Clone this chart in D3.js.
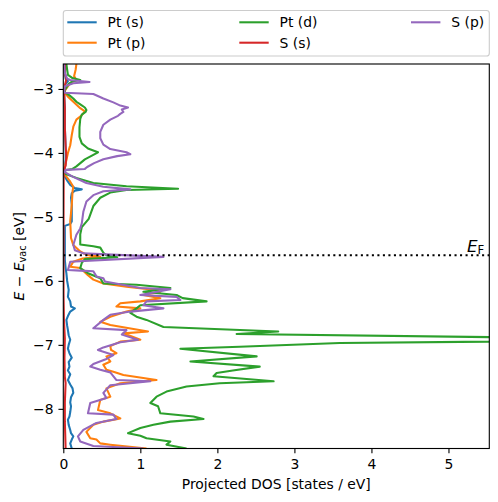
<!DOCTYPE html>
<html><head><meta charset="utf-8">
<script src="https://cdn.jsdelivr.net/npm/d3@7"></script>
<style>body{margin:0;background:#fff} svg{display:block} text{font-family:"DejaVu Sans",sans-serif;fill:#000}</style>
</head><body><svg id="c" width="498" height="502"></svg>
<script>
// ---- data: [energy (eV), projected DOS (states/eV)] ----
const seriesNames = ["Pt (s)", "Pt (p)", "Pt (d)", "S (s)", "S (p)"];
const seriesColors = ["#1f77b4", "#ff7f0e", "#2ca02c", "#d62728", "#9467bd"];
const xTicks = [0, 1, 2, 3, 4, 5];
const yTicks = [-8, -7, -6, -5, -4, -3];
const xDomain = [0, 5.53];
const yDomain = [-8.62, -2.61];
const fermiLevel = -5.6;

const ptS = [[-2.61,0.02],[-2.75,0.02],[-2.84,0.03],[-2.88,0.06],[-2.92,0.03],[-3.0,0.02],[-3.05,0.01],[-3.3,0.02],[-3.6,0.02],[-3.9,0.03],[-4.1,0.03],[-4.25,0.02],[-4.3,0.005],[-4.37,0.02],[-4.45,0.06],[-4.5,0.09],[-4.55,0.15],[-4.57,0.24],[-4.59,0.15],[-4.63,0.11],[-4.7,0.10],[-4.81,0.11],[-4.95,0.11],[-5.07,0.11],[-5.11,0.09],[-5.14,0.02],[-5.3,0.02],[-5.5,0.02],[-5.67,0.02],[-5.8,0.03],[-5.88,0.04],[-6.0,0.05],[-6.14,0.07],[-6.25,0.06],[-6.32,0.09],[-6.4,0.10],[-6.43,0.15],[-6.48,0.09],[-6.55,0.06],[-6.61,0.04],[-6.7,0.05],[-6.77,0.06],[-6.85,0.07],[-6.92,0.09],[-7.0,0.07],[-7.06,0.06],[-7.13,0.08],[-7.2,0.11],[-7.27,0.07],[-7.34,0.08],[-7.4,0.06],[-7.46,0.09],[-7.55,0.06],[-7.62,0.09],[-7.68,0.12],[-7.75,0.13],[-7.82,0.10],[-7.9,0.09],[-7.96,0.10],[-8.05,0.09],[-8.12,0.08],[-8.17,0.06],[-8.25,0.07],[-8.33,0.09],[-8.38,0.10],[-8.43,0.13],[-8.48,0.11],[-8.54,0.09],[-8.62,0.11]];

const ptP = [[-2.61,0.17],[-2.70,0.16],[-2.80,0.14],[-2.86,0.17],[-2.91,0.09],[-2.99,0.04],[-3.05,0.01],[-3.12,0.06],[-3.20,0.13],[-3.30,0.22],[-3.35,0.28],[-3.41,0.24],[-3.48,0.17],[-3.59,0.13],[-3.72,0.11],[-3.88,0.09],[-4.00,0.06],[-4.11,0.04],[-4.22,0.02],[-4.28,0.005],[-4.34,0.02],[-4.45,0.09],[-4.53,0.13],[-4.60,0.12],[-4.81,0.11],[-5.07,0.09],[-5.33,0.10],[-5.44,0.13],[-5.54,0.22],[-5.59,0.30],[-5.625,0.48],[-5.65,0.25],[-5.70,0.13],[-5.78,0.09],[-5.80,0.22],[-5.91,0.32],[-5.98,0.39],[-6.04,0.52],[-6.09,0.82],[-6.14,1.17],[-6.17,1.26],[-6.22,1.04],[-6.27,1.26],[-6.32,1.00],[-6.35,0.74],[-6.40,0.69],[-6.43,1.00],[-6.48,0.82],[-6.56,0.61],[-6.64,0.48],[-6.69,0.61],[-6.79,1.10],[-6.82,0.78],[-6.92,1.00],[-6.95,0.74],[-7.02,0.61],[-7.08,0.62],[-7.13,0.69],[-7.18,0.56],[-7.26,0.61],[-7.31,0.52],[-7.39,0.56],[-7.42,0.65],[-7.47,0.78],[-7.55,1.21],[-7.60,0.74],[-7.68,0.56],[-7.81,0.61],[-7.86,0.48],[-8.02,0.45],[-8.07,0.61],[-8.15,0.74],[-8.20,0.52],[-8.25,0.39],[-8.36,0.30],[-8.46,0.35],[-8.48,0.43],[-8.54,0.48],[-8.56,0.61],[-8.62,1.08]];

const ptD = [[-2.61,0.04],[-2.70,0.05],[-2.78,0.06],[-2.83,0.12],[-2.86,0.22],[-2.88,0.12],[-2.92,0.07],[-2.98,0.04],[-3.03,0.01],[-3.06,0.03],[-3.10,0.08],[-3.15,0.13],[-3.20,0.17],[-3.25,0.23],[-3.29,0.28],[-3.33,0.30],[-3.36,0.29],[-3.40,0.24],[-3.47,0.22],[-3.60,0.21],[-3.75,0.21],[-3.85,0.24],[-3.93,0.32],[-3.99,0.45],[-4.03,0.39],[-4.10,0.28],[-4.21,0.17],[-4.25,0.12],[-4.27,0.02],[-4.33,0.03],[-4.39,0.17],[-4.47,0.39],[-4.52,0.82],[-4.56,1.49],[-4.58,0.82],[-4.62,0.61],[-4.70,0.48],[-4.83,0.39],[-5.03,0.33],[-5.16,0.24],[-5.27,0.22],[-5.43,0.22],[-5.46,0.39],[-5.48,0.48],[-5.56,0.52],[-5.60,0.56],[-5.63,0.70],[-5.66,0.28],[-5.72,0.24],[-5.80,0.22],[-5.88,0.32],[-5.96,0.48],[-6.04,0.52],[-6.06,0.95],[-6.11,1.39],[-6.17,1.04],[-6.22,1.47],[-6.27,1.55],[-6.32,1.86],[-6.38,1.00],[-6.43,0.95],[-6.50,0.87],[-6.56,0.95],[-6.61,1.08],[-6.72,1.30],[-6.79,2.79],[-6.83,2.25],[-6.92,8.3],[-6.97,3.59],[-7.03,2.29],[-7.06,1.52],[-7.18,2.51],[-7.26,1.65],[-7.34,2.55],[-7.40,2.2],[-7.44,1.99],[-7.49,1.95],[-7.57,2.73],[-7.60,2.03],[-7.65,1.60],[-7.73,1.34],[-7.81,1.21],[-7.91,1.13],[-7.96,1.23],[-8.07,1.26],[-8.12,1.69],[-8.16,1.82],[-8.20,1.39],[-8.25,1.17],[-8.30,1.00],[-8.38,0.84],[-8.42,1.00],[-8.46,1.08],[-8.51,1.39],[-8.56,1.34],[-8.62,1.60]];

const sS = [[-2.61,0.02],[-2.75,0.02],[-2.85,0.04],[-2.95,0.02],[-3.05,0.01],[-3.3,0.02],[-3.6,0.02],[-3.9,0.03],[-4.05,0.04],[-4.2,0.03],[-4.28,0.005],[-4.6,0.004],[-5.0,0.003],[-5.6,0.003],[-6.2,0.003],[-6.6,0.008],[-6.9,0.02],[-7.2,0.015],[-7.5,0.02],[-7.6,0.03],[-7.9,0.02],[-8.2,0.02],[-8.4,0.025],[-8.62,0.03]];

const sP = [[-2.61,0.01],[-2.75,0.02],[-2.84,0.05],[-2.86,0.09],[-2.89,0.34],[-2.91,0.13],[-2.96,0.02],[-3.04,0.01],[-3.06,0.02],[-3.08,0.39],[-3.15,0.52],[-3.21,0.65],[-3.26,0.74],[-3.29,0.84],[-3.32,0.76],[-3.36,0.78],[-3.39,0.74],[-3.42,0.71],[-3.48,0.61],[-3.56,0.52],[-3.67,0.48],[-3.77,0.48],[-3.87,0.52],[-3.94,0.61],[-3.99,0.82],[-4.02,0.87],[-4.05,0.70],[-4.10,0.52],[-4.16,0.40],[-4.22,0.31],[-4.25,0.28],[-4.265,0.03],[-4.30,0.02],[-4.37,0.12],[-4.47,0.30],[-4.53,0.52],[-4.57,0.87],[-4.60,0.52],[-4.66,0.39],[-4.76,0.30],[-4.92,0.26],[-5.10,0.24],[-5.18,0.22],[-5.28,0.17],[-5.44,0.13],[-5.52,0.15],[-5.57,0.26],[-5.625,1.30],[-5.70,0.09],[-5.83,0.06],[-5.84,0.22],[-5.85,0.39],[-5.93,0.43],[-5.96,0.52],[-6.01,0.54],[-6.11,1.00],[-6.13,1.39],[-6.22,1.00],[-6.25,1.47],[-6.30,1.52],[-6.32,1.08],[-6.38,1.04],[-6.43,1.30],[-6.48,0.87],[-6.53,0.61],[-6.61,0.52],[-6.74,0.39],[-6.77,0.82],[-6.84,0.76],[-6.92,0.97],[-6.96,0.74],[-7.04,0.52],[-7.08,0.45],[-7.16,0.65],[-7.22,0.56],[-7.30,0.39],[-7.34,0.35],[-7.39,0.48],[-7.43,0.61],[-7.55,0.69],[-7.57,1.13],[-7.63,0.61],[-7.75,0.52],[-7.83,0.56],[-7.91,0.35],[-8.07,0.32],[-8.09,0.65],[-8.16,0.69],[-8.22,0.43],[-8.33,0.26],[-8.43,0.19],[-8.51,0.22],[-8.58,0.39],[-8.62,1.04]];

const seriesData = [ptS, ptP, ptD, sS, sP];

// ---- layout ----
const L = 63.3, R = 489.3, T = 64, B = 448.5;
const FS = 13.9;
const svg = d3.select("#c");
const x = d3.scaleLinear().domain(xDomain).range([L, R]);
const y = d3.scaleLinear().domain(yDomain).range([B, T]);

svg.append("defs").append("clipPath").attr("id", "clip")
  .append("rect").attr("x", L).attr("y", T).attr("width", R - L).attr("height", B - T);

const plot = svg.append("g").attr("clip-path", "url(#clip)");
const line = d3.line().x(d => x(d[1])).y(d => y(d[0]));
seriesData.forEach((s, i) => {
  plot.append("path").datum(s).attr("d", line)
    .attr("fill", "none").attr("stroke", seriesColors[i])
    .attr("stroke-width", 2.08).attr("stroke-linejoin", "round").attr("stroke-linecap", "butt");
});

// Fermi level
plot.append("line").attr("x1", x(xDomain[0])).attr("x2", x(xDomain[1]))
  .attr("y1", y(fermiLevel)).attr("y2", y(fermiLevel))
  .attr("stroke", "#000").attr("stroke-width", 2.08).attr("stroke-dasharray", "2.08,3.43");

const ef = svg.append("text").attr("x", R - 5).attr("y", y(fermiLevel) - 3.5)
  .attr("text-anchor", "end").style("font-size", "16.7px");
ef.append("tspan").attr("font-style", "italic").text("E");
ef.append("tspan").attr("dy", 2.6).style("font-size", "11.7px").text("F");

// axes
const xAxis = svg.append("g").attr("transform", `translate(0,${B})`)
  .call(d3.axisBottom(x).tickValues(xTicks).tickSize(4.86).tickPadding(4.86).tickSizeOuter(0).tickFormat(d3.format("d")));
const yAxis = svg.append("g").attr("transform", `translate(${L},0)`)
  .call(d3.axisLeft(y).tickValues(yTicks).tickSize(4.86).tickPadding(4.86).tickSizeOuter(0).tickFormat(d3.format("d")));
[xAxis, yAxis].forEach(a => {
  a.select(".domain").remove();
  a.selectAll(".tick line").attr("stroke", "#000").attr("stroke-width", 1.11);
  a.selectAll(".tick text").style("font-size", FS + "px").attr("fill", "#000")
    .style("font-family", '"DejaVu Sans", sans-serif');
});
xAxis.selectAll(".tick text").attr("dy", "0.76em").attr("y", 10.2);
yAxis.selectAll(".tick text").attr("dy", "0.36em");

svg.append("rect").attr("x", L).attr("y", T).attr("width", R - L).attr("height", B - T)
  .attr("fill", "none").attr("stroke", "#000").attr("stroke-width", 1.11);

// axis labels
svg.append("text").attr("x", (L + R) / 2).attr("y", 488.5).attr("text-anchor", "middle")
  .style("font-size", FS + "px").text("Projected DOS [states / eV]");
const yl = svg.append("text").attr("transform", `translate(24,${(T + B) / 2}) rotate(-90)`)
  .attr("text-anchor", "middle").style("font-size", FS + "px");
yl.append("tspan").attr("font-style", "italic").text("E");
yl.append("tspan").text(" − ");
yl.append("tspan").attr("font-style", "italic").text("E");
yl.append("tspan").attr("dy", 2.2).style("font-size", "9.7px").text("vac");
yl.append("tspan").attr("dy", -2.2).text(" [eV]");

// legend
const lg = svg.append("g");
lg.append("rect").attr("x", L).attr("y", 10.5).attr("width", R - L).attr("height", 45.5)
  .attr("rx", 2.8).attr("fill", "#fff").attr("fill-opacity", 0.8)
  .attr("stroke", "#cccccc").attr("stroke-width", 1.11);
const colX = [67.3, 239.3, 411];
const rowY = [22.3, 42.7];
seriesNames.forEach((n, i) => {
  const c = Math.floor(i / 2), r = i % 2;
  lg.append("line").attr("x1", colX[c]).attr("x2", colX[c] + 29.4)
    .attr("y1", rowY[r]).attr("y2", rowY[r])
    .attr("stroke", seriesColors[i]).attr("stroke-width", 2.08);
  lg.append("text").attr("x", colX[c] + 40.3).attr("y", rowY[r]).attr("dy", "0.36em")
    .style("font-size", FS + "px").text(n);
});
</script></body></html>
